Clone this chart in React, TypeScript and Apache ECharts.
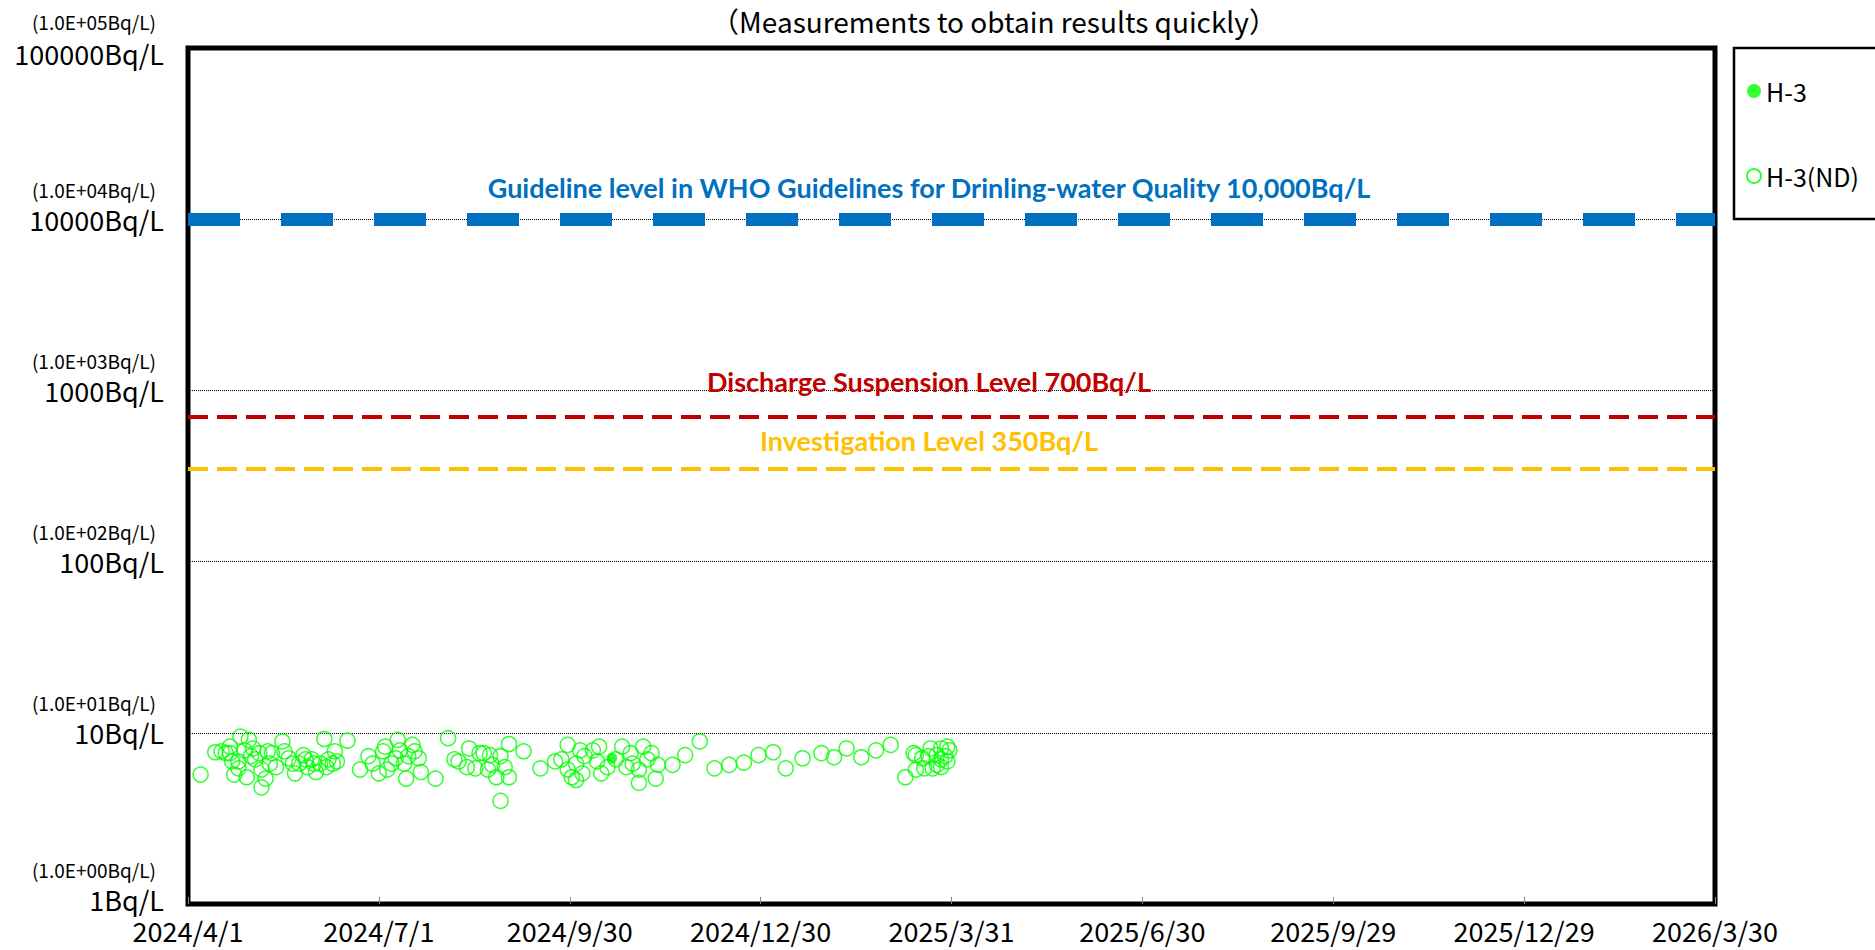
import React, { useEffect, useRef } from 'react';
import * as echarts from 'echarts';

const titleText = '（Measurements to obtain results quickly）';
const startDate = '2024-04-01';
const xTickLabels = ['2024/4/1', '2024/7/1', '2024/9/30', '2024/12/30', '2025/3/31', '2025/6/30', '2025/9/29', '2025/12/29', '2026/3/30'];
const xTickStepDays = 91;
const yTickMain = ['1Bq/L', '10Bq/L', '100Bq/L', '1000Bq/L', '10000Bq/L', '100000Bq/L'];
const yTickSub = ['(1.0E+00Bq/L)', '(1.0E+01Bq/L)', '(1.0E+02Bq/L)', '(1.0E+03Bq/L)', '(1.0E+04Bq/L)', '(1.0E+05Bq/L)'];

const levelValues = [10000, 700, 350];
const levelLabels = [
  'Guideline level in WHO Guidelines for Drinling-water Quality 10,000Bq/L',
  'Discharge Suspension Level 700Bq/L',
  'Investigation Level 350Bq/L',
];
const levelColors = ['#0070C0', '#C00000', '#FFC000'];

const h3Dates = ['2024-10-20'];
const h3Values = [7.1];

const ndDates = [
  '2024-04-07', '2024-04-14', '2024-04-17', '2024-04-19', '2024-04-21', '2024-04-21', '2024-04-22', '2024-04-23', '2024-04-25', '2024-04-25',
  '2024-04-26', '2024-04-28', '2024-04-29', '2024-04-30', '2024-05-01', '2024-05-02', '2024-05-03', '2024-05-05', '2024-05-06', '2024-05-06',
  '2024-05-08', '2024-05-09', '2024-05-10', '2024-05-11', '2024-05-13', '2024-05-16', '2024-05-17', '2024-05-19', '2024-05-21', '2024-05-22',
  '2024-05-24', '2024-05-26', '2024-05-27', '2024-05-28', '2024-05-30', '2024-05-31', '2024-06-01', '2024-06-03', '2024-06-05', '2024-06-06',
  '2024-06-07', '2024-06-09', '2024-06-10', '2024-06-11', '2024-06-16', '2024-06-22', '2024-06-26', '2024-06-28', '2024-07-01', '2024-07-03',
  '2024-07-04', '2024-07-05', '2024-07-07', '2024-07-09', '2024-07-10', '2024-07-11', '2024-07-13', '2024-07-14', '2024-07-15', '2024-07-17',
  '2024-07-18', '2024-07-20', '2024-07-21', '2024-07-28', '2024-08-03', '2024-08-06', '2024-08-08', '2024-08-12', '2024-08-13', '2024-08-16',
  '2024-08-18', '2024-08-20', '2024-08-22', '2024-08-23', '2024-08-24', '2024-08-26', '2024-08-28', '2024-08-28', '2024-08-30', '2024-09-01',
  '2024-09-01', '2024-09-08', '2024-09-16', '2024-09-23', '2024-09-26', '2024-09-29', '2024-09-29', '2024-10-01', '2024-10-03', '2024-10-03',
  '2024-10-05', '2024-10-06', '2024-10-07', '2024-10-11', '2024-10-13', '2024-10-14', '2024-10-15', '2024-10-18', '2024-10-22', '2024-10-25',
  '2024-10-27', '2024-10-29', '2024-10-30', '2024-11-02', '2024-11-02', '2024-11-04', '2024-11-06', '2024-11-08', '2024-11-10', '2024-11-11',
  '2024-11-18', '2024-11-24', '2024-12-01', '2024-12-08', '2024-12-15', '2024-12-22', '2024-12-29', '2025-01-05', '2025-01-11', '2025-01-19',
  '2025-01-28', '2025-02-03', '2025-02-09', '2025-02-16', '2025-02-23', '2025-03-02', '2025-03-09', '2025-03-13', '2025-03-14', '2025-03-14',
  '2025-03-17', '2025-03-18', '2025-03-20', '2025-03-21', '2025-03-22', '2025-03-24', '2025-03-24', '2025-03-26', '2025-03-26', '2025-03-26',
  '2025-03-28', '2025-03-29', '2025-03-29', '2025-03-30',
];
const ndValues = [
  5.7, 7.7, 7.8, 7.6, 7.6, 8.3, 6.8, 5.7, 6.2, 6.8,
  9.5, 7.9, 5.5, 9.1, 7.3, 8.1, 7.0, 7.6, 6.1, 4.8,
  5.4, 7.8, 6.6, 7.6, 6.3, 8.9, 7.8, 7.1, 6.6, 5.8,
  6.6, 7.4, 7.0, 6.3, 7.0, 6.6, 5.9, 6.6, 9.2, 6.3,
  7.0, 6.6, 7.8, 6.8, 9.0, 6.1, 7.3, 6.6, 5.8, 7.8,
  8.3, 6.1, 6.6, 7.1, 9.1, 7.9, 6.6, 5.4, 7.3, 8.5,
  7.8, 7.1, 5.9, 5.4, 9.3, 7.0, 6.8, 6.3, 8.1, 6.2,
  7.6, 7.6, 6.1, 7.4, 6.5, 5.5, 7.3, 4.0, 6.3, 5.5,
  8.6, 7.8, 6.2, 6.8, 7.0, 8.5, 6.1, 5.5, 6.6, 5.3,
  7.9, 5.8, 7.3, 7.9, 6.8, 8.3, 5.8, 6.3, 7.0, 8.3,
  6.3, 7.6, 6.6, 5.1, 6.1, 8.3, 7.0, 7.6, 5.4, 6.5,
  6.5, 7.4, 8.9, 6.2, 6.5, 6.7, 7.4, 7.7, 6.2, 7.1,
  7.6, 7.2, 8.1, 7.2, 7.9, 8.5, 5.5, 7.6, 7.4, 6.1,
  7.1, 6.2, 7.3, 8.1, 6.2, 7.4, 6.5, 8.1, 7.0, 6.3,
  7.3, 8.3, 6.8, 7.9,
];

const DAY = 86400000;
const dayOffset = (d: string) => Math.round((Date.parse(d) - Date.parse(startDate)) / DAY);

const FONT = '"Noto Sans CJK JP", "Noto Sans", sans-serif';
const BOLD_FONT = 'Lato, "Open Sans", sans-serif';

export default function App() {
  const ref = useRef<HTMLDivElement>(null);
  useEffect(() => {
    if (!ref.current) return;
    const chart = echarts.init(ref.current, undefined, { renderer: 'svg' });
    const left = 188, right = 160, top = 48, bottom = 46;
    const lineStyles = [
      { color: levelColors[0], width: 13, type: [52, 41] },
      { color: levelColors[1], width: 4, type: [20, 9] },
      { color: levelColors[2], width: 4, type: [20, 9] },
    ];
    const labelPos = [
      { x: 929, y: 187 },
      { x: 929, y: 381 },
      { x: 929, y: 440 },
    ];
    const sStyle = (lh: number) => ({ fontSize: 19, lineHeight: lh, padding: [0, 8, 0, 0], color: '#000', fontFamily: FONT });
    const bStyle = (lh: number) => ({ fontSize: 27, lineHeight: lh, color: '#000', fontFamily: FONT });
    const eStyle = (lh: number) => ({ fontSize: 19, lineHeight: lh, fontFamily: FONT });
    const option: any = {
      animation: false,
      backgroundColor: '#fff',
      textStyle: { fontFamily: FONT },
      grid: { left, right, top, bottom, show: true, borderColor: '#000', borderWidth: 5, backgroundColor: 'transparent' },
      xAxis: {
        type: 'value',
        min: 0,
        max: xTickStepDays * (xTickLabels.length - 1),
        interval: xTickStepDays,
        axisLine: { show: false },
        axisTick: { show: true, inside: true, length: 7, lineStyle: { color: '#888', width: 1 } },
        splitLine: { show: false },
        axisLabel: {
          showMinLabel: true,
          showMaxLabel: true,
          margin: 13,
          fontSize: 27,
          color: '#000',
          fontFamily: FONT,
          formatter: (v: number) => xTickLabels[Math.round(v / xTickStepDays)] ?? '',
        },
      },
      yAxis: {
        type: 'log',
        logBase: 10,
        min: 1,
        max: 100000,
        axisLine: { show: false },
        axisTick: { show: false },
        splitLine: { show: true, lineStyle: { color: '#000', width: 1, type: 'dotted' } },
        axisLabel: {
          margin: 24,
          color: '#000',
          fontFamily: FONT,
          formatter: (v: number) => {
            const i = Math.round(Math.log10(v));
            const k = i === 0 ? 'B' : i === yTickMain.length - 1 ? 'T' : 'M';
            return `{s${k}|${yTickSub[i]}}\n{b${k}|${yTickMain[i]}}\n{e${k}| }`;
          },
          rich: {
            sM: sStyle(30), bM: bStyle(30), eM: eStyle(30),
            sT: sStyle(32), bT: bStyle(32), eT: eStyle(22),
            sB: sStyle(30), bB: bStyle(30), eB: eStyle(40),
          },
        },
      },
      legend: {
        orient: 'vertical',
        left: 1746,
        top: 78,
        padding: 0,
        itemGap: 59,
        itemWidth: 14,
        itemHeight: 14,
        textStyle: { fontSize: 25, lineHeight: 26, color: '#000', fontFamily: FONT },
        data: [
          { name: 'H-3', icon: 'circle' },
          { name: 'H-3(ND)', icon: 'circle' },
        ],
      },
      series: [
        {
          name: 'H-3(ND)',
          type: 'scatter',
          symbol: 'circle',
          symbolSize: 15,
          z: 3,
          itemStyle: { color: 'rgba(255,255,255,0)', borderColor: '#00FF00', borderWidth: 1.5 },
          data: ndDates.map((d, i) => [dayOffset(d), ndValues[i]]),
          markLine: {
            silent: true,
            symbol: ['none', 'none'],
            label: { show: false },
            z: 2,
            data: levelValues.map((v, i) => ({ yAxis: v, lineStyle: lineStyles[i] })),
          },
        },
        {
          name: 'H-3',
          type: 'scatter',
          symbol: 'circle',
          symbolSize: 11,
          z: 4,
          itemStyle: { color: '#00FF00' },
          data: h3Dates.map((d, i) => [dayOffset(d), h3Values[i]]),
        },
      ],
      graphic: [
        {
          type: 'text',
          x: 994,
          y: 21,
          style: { text: titleText, font: `28px ${FONT}`, fill: '#000', textAlign: 'center', textVerticalAlign: 'middle' },
        },
        {
          type: 'rect',
          shape: { x: 1734, y: 48, width: 200, height: 171 },
          style: { fill: 'none', stroke: '#000', lineWidth: 2.5 },
        },
        ...levelLabels.map((t, i) => ({
          type: 'text',
          x: labelPos[i].x,
          y: labelPos[i].y,
          z: 10,
          style: { text: t, font: `bold 27px ${BOLD_FONT}`, fill: levelColors[i], textAlign: 'center', textVerticalAlign: 'middle' },
        })),
      ],
    };
    chart.setOption(option);
    return () => chart.dispose();
  }, []);
  return <div ref={ref} style={{ position: 'fixed', left: 0, top: 0, width: 1875, height: 950 }} />;
}
